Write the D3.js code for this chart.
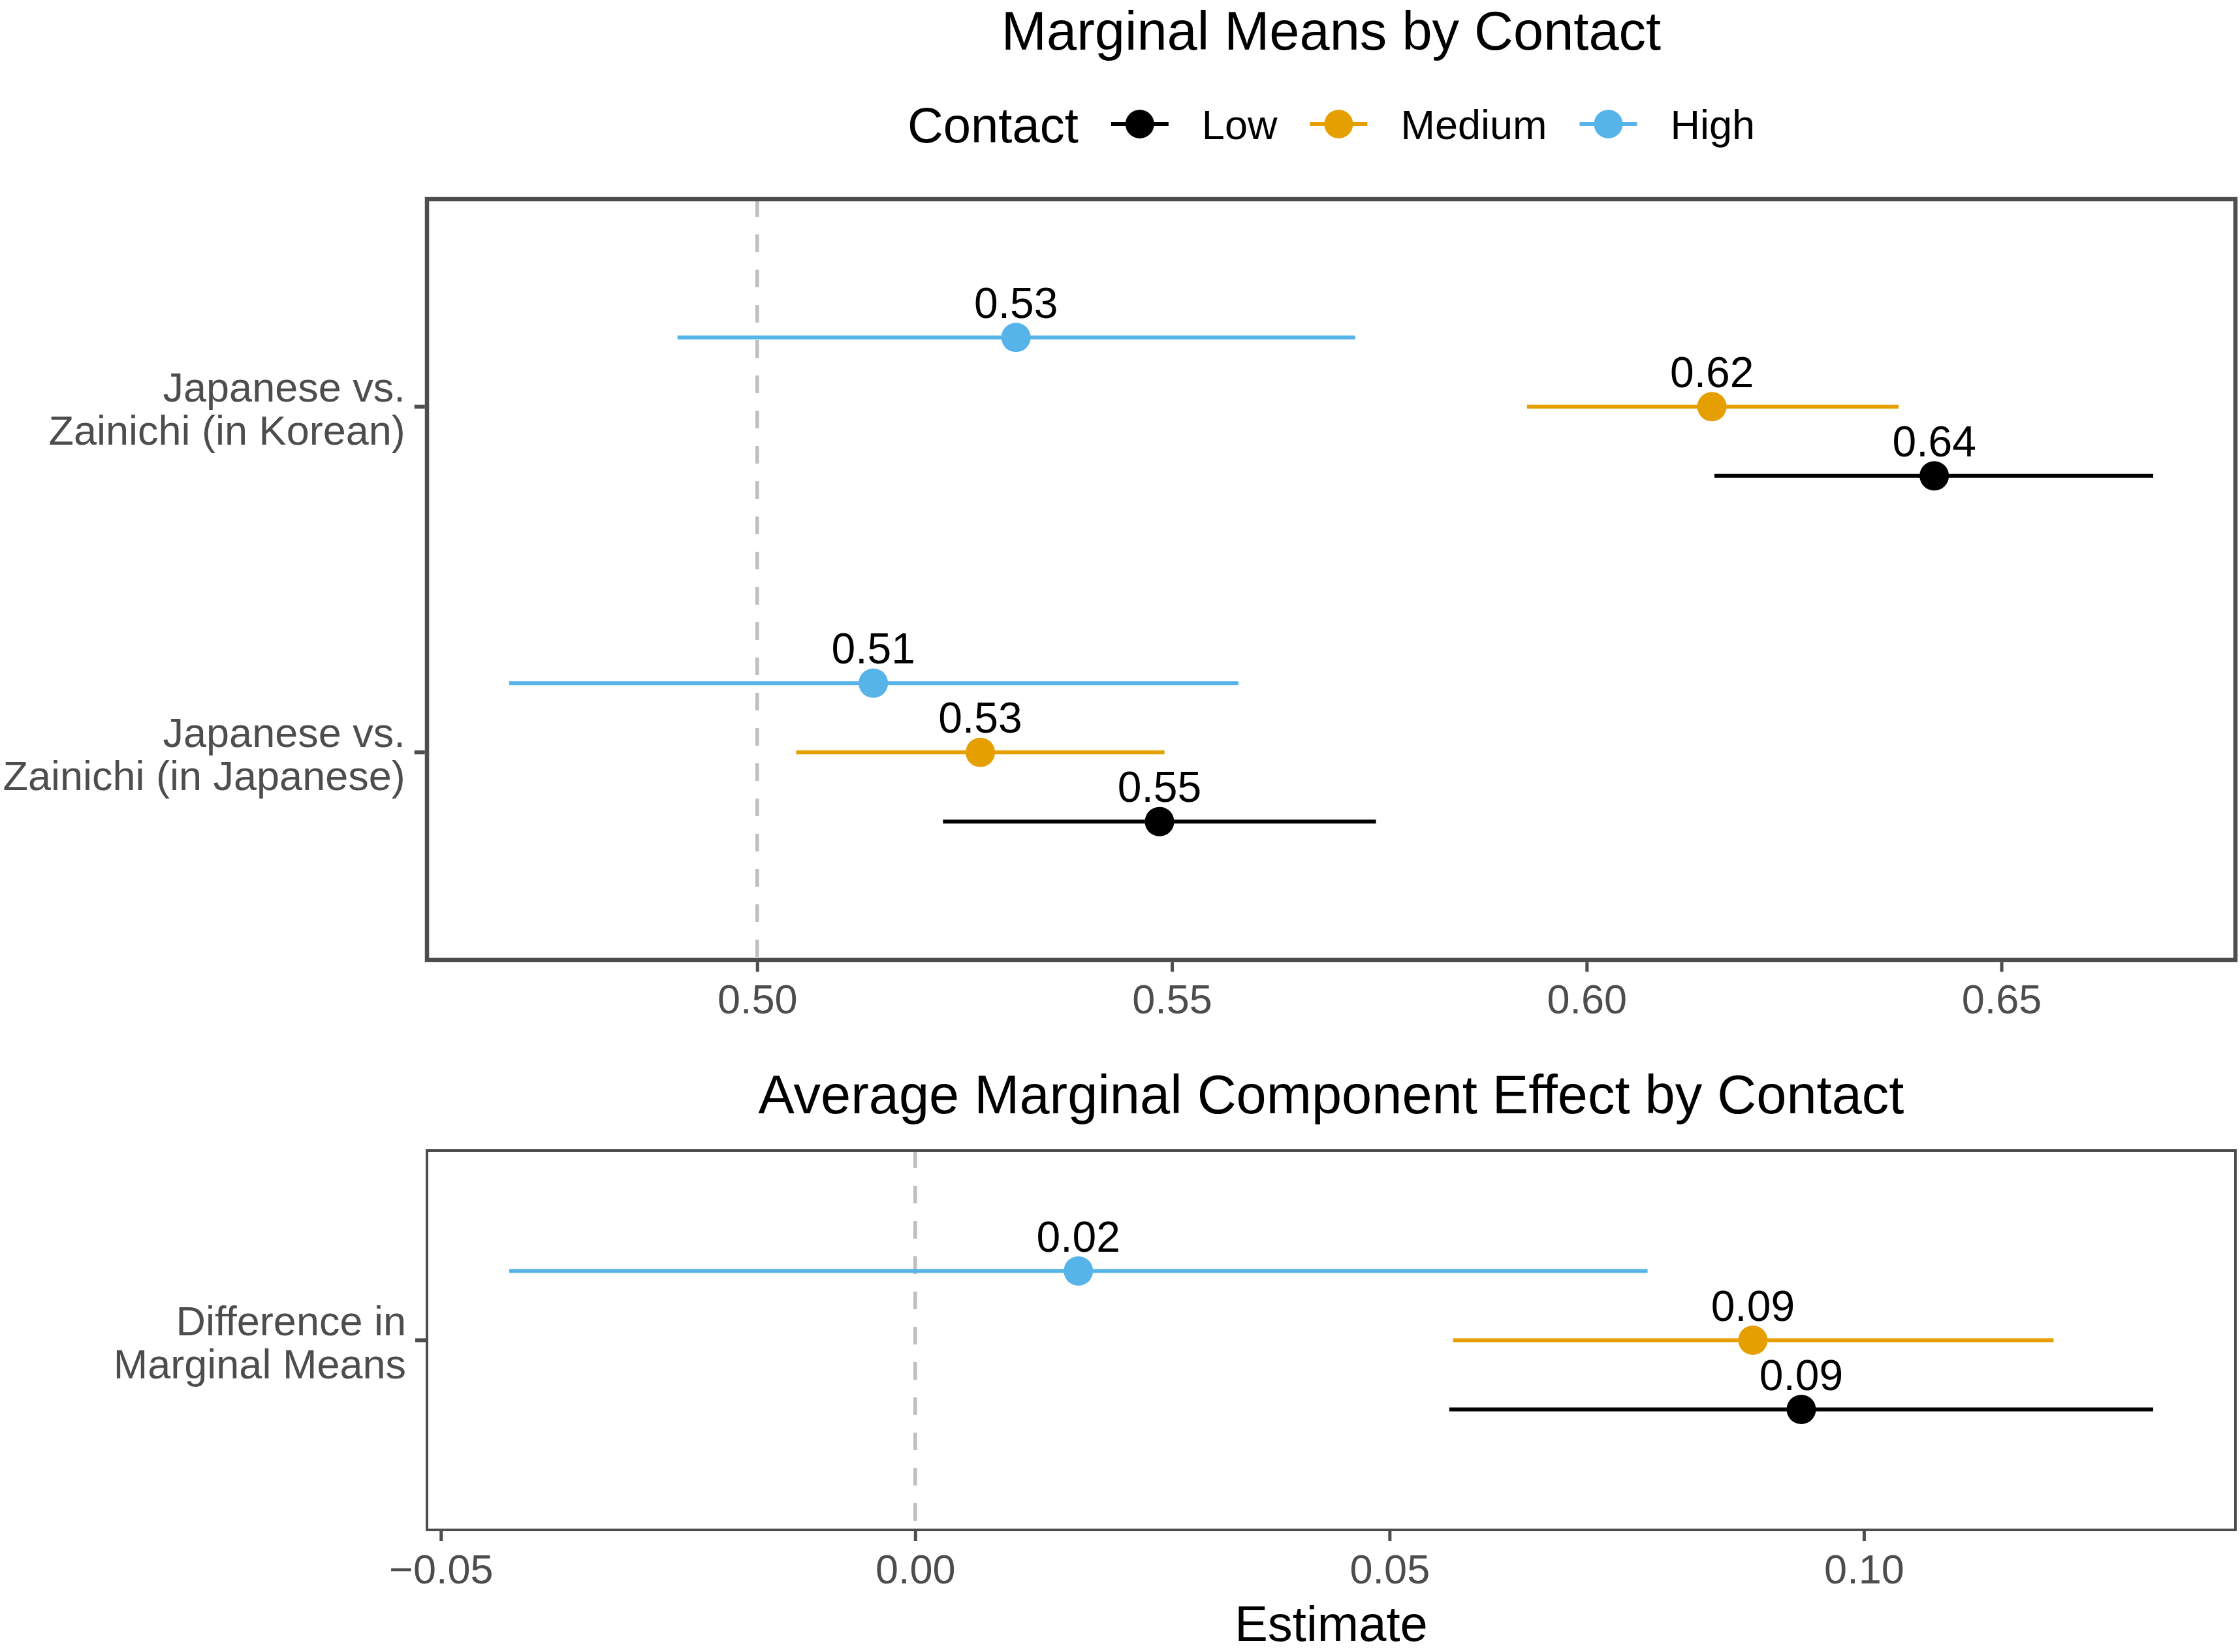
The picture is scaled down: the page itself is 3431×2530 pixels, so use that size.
<!DOCTYPE html>
<html lang="en">
<head>
<meta charset="UTF-8">
<title>Marginal Means by Contact</title>
<script src="https://cdn.jsdelivr.net/npm/d3@7"></script>
<style>
body { margin: 0; background: #fff; }
svg { display: block; }
text { font-family: "Liberation Sans", Arial, Helvetica, sans-serif; }
</style>
</head>
<body>
<div id="chart"></div>
<script>
// contact levels and their colours
const contacts = ["Low", "Medium", "High"];
const contactColors = ["#000000", "#E69F00", "#56B4E9"];

// top panel: marginal means
const mmOutcomes = ["Japanese vs. Zainichi (in Japanese)", "Japanese vs. Zainichi (in Korean)"];
const mmOutcomeLines = [["Japanese vs.", "Zainichi (in Japanese)"], ["Japanese vs.", "Zainichi (in Korean)"]];
const mmOutcome = ["Japanese vs. Zainichi (in Korean)", "Japanese vs. Zainichi (in Korean)", "Japanese vs. Zainichi (in Korean)",
                   "Japanese vs. Zainichi (in Japanese)", "Japanese vs. Zainichi (in Japanese)", "Japanese vs. Zainichi (in Japanese)"];
const mmContact = ["Low", "Medium", "High", "Low", "Medium", "High"];
const mmEstimate = [0.6419, 0.6151, 0.5312, 0.5485, 0.5269, 0.5140];
const mmLower    = [0.6154, 0.5928, 0.4904, 0.5224, 0.5047, 0.4701];
const mmUpper    = [0.6683, 0.6376, 0.5721, 0.5746, 0.5491, 0.5580];
const mmTicks = [0.50, 0.55, 0.60, 0.65];

// bottom panel: AMCE
const amceOutcomes = ["Difference in Marginal Means"];
const amceOutcomeLines = [["Difference in", "Marginal Means"]];
const amceContact = ["Low", "Medium", "High"];
const amceEstimate = [0.0934, 0.0883, 0.0172];
const amceLower    = [0.0563, 0.0567, -0.0428];
const amceUpper    = [0.1305, 0.1200, 0.0772];
const amceTicks = [-0.05, 0.00, 0.05, 0.10];

const W = 3431, H = 2530;
const left = 654, right = 3424;
const grey = "#4d4d4d";
const fmt = d3.format(".2f");

const svg = d3.select("#chart").append("svg")
    .attr("width", W)
    .attr("height", H);

const color = d3.scaleOrdinal().domain(contacts).range(contactColors);
// dodge High above, Low below
const dodge = d3.scalePoint().domain(["High", "Medium", "Low"]).range([-106, 106]);

function padded(lo, hi) {
    const a = d3.min(lo), b = d3.max(hi), p = (b - a) * 0.05;
    return [a - p, b + p];
}

function panel(opts) {
    const x = d3.scaleLinear().domain(padded(opts.lower, opts.upper)).range([left, right]);
    const y = d3.scaleLinear().domain([0.4, opts.outcomes.length + 0.6]).range([opts.bottom, opts.top]);
    const rows = opts.estimate.map((e, i) => ({
        outcome: opts.outcome[i], contact: opts.contact[i],
        est: e, lo: opts.lower[i], hi: opts.upper[i]
    }));
    const g = svg.append("g");

    // reference line
    g.append("line")
        .attr("x1", x(opts.ref)).attr("x2", x(opts.ref))
        .attr("y1", opts.top).attr("y2", opts.bottom)
        .attr("stroke", "#bfbfbf")
        .attr("stroke-width", 5.5)
        .attr("stroke-dasharray", "27,27");

    const yPos = d => y(opts.outcomes.indexOf(d.outcome) + 1) + dodge(d.contact);

    g.selectAll("line.ci").data(rows).join("line")
        .attr("class", "ci")
        .attr("x1", d => x(d.lo)).attr("x2", d => x(d.hi))
        .attr("y1", yPos).attr("y2", yPos)
        .attr("stroke", d => color(d.contact))
        .attr("stroke-width", 6);

    g.selectAll("circle.pt").data(rows).join("circle")
        .attr("class", "pt")
        .attr("cx", d => x(d.est)).attr("cy", yPos)
        .attr("r", 22.5)
        .attr("fill", d => color(d.contact));

    g.selectAll("text.lab").data(rows).join("text")
        .attr("class", "lab")
        .attr("x", d => x(d.est)).attr("y", d => yPos(d) - 30)
        .attr("text-anchor", "middle")
        .attr("font-size", 66)
        .attr("fill", "#000")
        .text(d => fmt(d.est));

    // border
    g.append("rect")
        .attr("x", left).attr("y", opts.top)
        .attr("width", right - left).attr("height", opts.bottom - opts.top)
        .attr("fill", "none")
        .attr("stroke", grey)
        .attr("stroke-width", opts.border);

    // x axis
    const xAxis = g.append("g")
        .attr("transform", `translate(0,${opts.bottom + opts.border / 2})`)
        .call(d3.axisBottom(x).tickValues(opts.ticks).tickFormat(fmt).tickSize(15).tickSizeOuter(0));
    xAxis.select(".domain").remove();
    xAxis.selectAll(".tick line").attr("stroke", grey).attr("stroke-width", 5);
    xAxis.selectAll(".tick text")
        .attr("fill", grey).attr("font-size", 63)
        .attr("y", 0).attr("dy", 0)
        .attr("transform", `translate(0,${82 - opts.border / 2})`);

    // y axis (two-line labels)
    const yTicks = g.append("g").selectAll("g").data(opts.outcomes).join("g")
        .attr("transform", (d, i) => `translate(${left - opts.border / 2},${y(i + 1)})`);
    yTicks.append("line")
        .attr("x1", -16).attr("x2", 0)
        .attr("stroke", grey).attr("stroke-width", 6);
    yTicks.append("text")
        .attr("text-anchor", "end")
        .attr("font-size", 63)
        .attr("fill", grey)
        .selectAll("tspan").data((d, i) => opts.lines[i]).join("tspan")
        .attr("x", -30)
        .attr("y", (d, j) => j === 0 ? -8 : 58)
        .text(d => d);

    // title
    svg.append("text")
        .attr("x", (left + right) / 2).attr("y", opts.titleY)
        .attr("text-anchor", "middle")
        .attr("font-size", 83)
        .attr("fill", "#000")
        .text(opts.title);
}

panel({
    title: "Marginal Means by Contact", titleY: 76,
    top: 305, bottom: 1470, border: 6.5, ref: 0.5,
    outcomes: mmOutcomes, lines: mmOutcomeLines,
    outcome: mmOutcome, contact: mmContact,
    estimate: mmEstimate, lower: mmLower, upper: mmUpper, ticks: mmTicks
});

panel({
    title: "Average Marginal Component Effect by Contact", titleY: 1705,
    top: 1762, bottom: 2343, border: 4, ref: 0,
    outcomes: amceOutcomes, lines: amceOutcomeLines,
    outcome: amceContact.map(() => amceOutcomes[0]), contact: amceContact,
    estimate: amceEstimate, lower: amceLower, upper: amceUpper, ticks: amceTicks
});

// x axis title
svg.append("text")
    .attr("x", (left + right) / 2).attr("y", 2513)
    .attr("text-anchor", "middle")
    .attr("font-size", 76)
    .attr("fill", "#000")
    .text("Estimate");

// legend, laid out left to right then centred
const legend = svg.append("g");
const legY = 190;
let cx = 0;
legend.append("text")
    .attr("x", 0).attr("y", legY + 28)
    .attr("font-size", 76)
    .text("Contact")
    .each(function() { cx = this.getComputedTextLength() + 50; });
contacts.forEach(c => {
    legend.append("line")
        .attr("x1", cx).attr("x2", cx + 88)
        .attr("y1", legY).attr("y2", legY)
        .attr("stroke", color(c)).attr("stroke-width", 6);
    legend.append("circle")
        .attr("cx", cx + 44).attr("cy", legY).attr("r", 22)
        .attr("fill", color(c));
    legend.append("text")
        .attr("x", cx + 139).attr("y", legY + 23)
        .attr("font-size", 63)
        .text(c)
        .each(function() { cx = cx + 139 + this.getComputedTextLength() + 50; });
});
const legW = cx - 50;
legend.attr("transform", `translate(${(left + right) / 2 - legW / 2},0)`);
</script>
</body>
</html>
